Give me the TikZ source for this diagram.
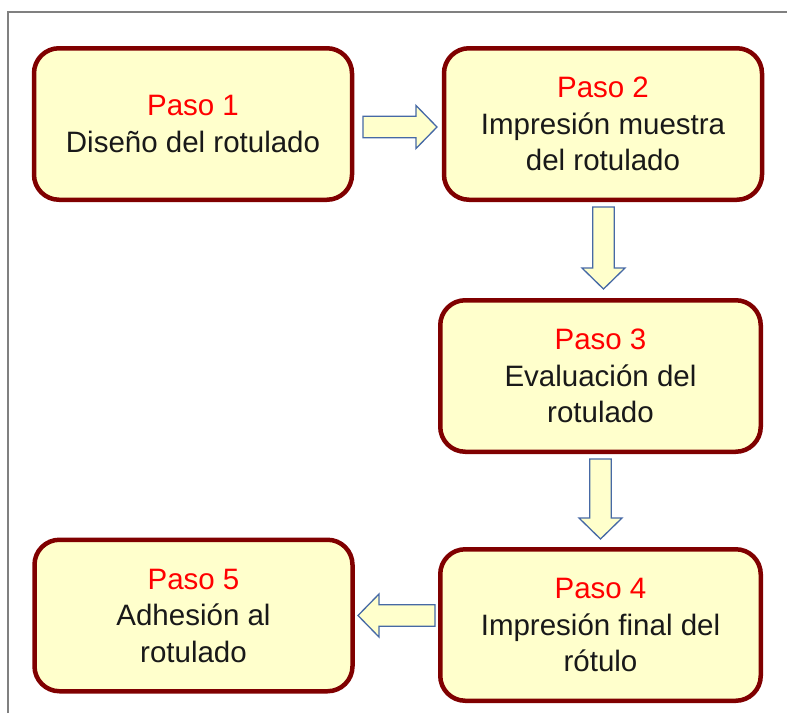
\documentclass[tikz,border=0pt]{standalone}
\usepackage{fontspec}
\setmainfont{Liberation Sans}
\usetikzlibrary{calc}

\definecolor{boxfill}{RGB}{255,255,204}
\definecolor{boxline}{RGB}{128,0,0}
\definecolor{arrowline}{RGB}{70,105,165}
\definecolor{frameline}{RGB}{128,128,128}

\begin{document}
\begin{tikzpicture}[x=1pt, y=1pt,
	paso/.style={rectangle, rounded corners=25pt, draw=boxline, line width=4.5pt, fill=boxfill,
		minimum width=318pt, minimum height=151.5pt, inner sep=0pt, align=center,
		font=\fontsize{29.5}{36.5}\selectfont, text=black!90},
	blockarrow/.style={draw=arrowline, fill=boxfill, line width=1.3pt,
		to path={-- ($(\tikztostart)!10.75pt!90:(\tikztotarget)$)
			-- ($($(\tikztotarget)!21pt!(\tikztostart)$)!10.75pt!90:(\tikztotarget)$)
			-- ($($(\tikztotarget)!21pt!(\tikztostart)$)!21.5pt!90:(\tikztotarget)$)
			-- (\tikztotarget)
			-- ($($(\tikztotarget)!21pt!(\tikztostart)$)!21.5pt!-90:(\tikztotarget)$)
			-- ($($(\tikztotarget)!21pt!(\tikztostart)$)!10.75pt!-90:(\tikztotarget)$)
			-- ($(\tikztostart)!10.75pt!-90:(\tikztotarget)$)
			-- cycle}}]
	\useasboundingbox (0,0) rectangle (787,-713);

	\draw [frameline, line width=1.2pt] (8,-713) -- (8,-12) -- (787,-12);

	\node[paso] (p1) at (193,-124) {\textcolor{red}{Paso 1}\\Diseño del rotulado};
	\node[paso] (p2) at (603,-124) {\textcolor{red}{Paso 2}\\Impresión muestra\\del rotulado};
	\node[paso, minimum width=320.5pt] (p3) at (600.5,-376) {\textcolor{red}{Paso 3}\\Evaluación del\\rotulado};
	\node[paso, minimum width=320.5pt] (p4) at (600.5,-625) {\textcolor{red}{Paso 4}\\Impresión final del\\rótulo};
	\node[paso] (p5) at (193.5,-615.5) {\textcolor{red}{Paso 5}\\Adhesión al\\rotulado};

	\coordinate (a1s) at (363,-127);
	\coordinate (a1e) at (437,-127);
	\coordinate (a2s) at (603.5,-207);
	\coordinate (a2e) at (603.5,-289);
	\coordinate (a3s) at (600.5,-459);
	\coordinate (a3e) at (600.5,-539);
	\coordinate (a4s) at (435,-615.5);
	\coordinate (a4e) at (358,-615.5);

	\draw [blockarrow] (a1s) to (a1e);
	\draw [blockarrow] (a2s) to (a2e);
	\draw [blockarrow] (a3s) to (a3e);
	\draw [blockarrow] (a4s) to (a4e);
\end{tikzpicture}
\end{document}
